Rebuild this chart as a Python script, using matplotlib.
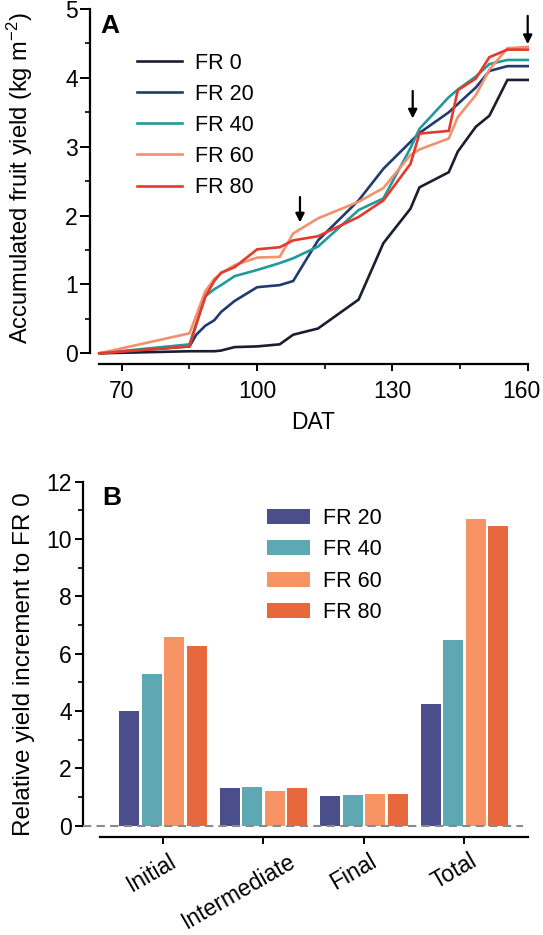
import matplotlib
matplotlib.use('Agg')
import matplotlib.pyplot as plt
from matplotlib.transforms import ScaledTranslation
import numpy as np

plt.rcParams['font.family'] = ['Liberation Sans', 'DejaVu Sans']
plt.rcParams['mathtext.fontset'] = 'custom'
plt.rcParams['mathtext.rm'] = 'Liberation Sans'
plt.rcParams['mathtext.it'] = 'Liberation Sans:italic'

# Panel A data: accumulated fruit yield (kg m-2) by days after transplanting
dat = [65, 85, 86.5, 88.5, 90.5, 92, 95, 100, 105, 108, 113.5, 122.5, 128, 134, 136, 142.5, 144.5, 148.5, 151.5, 155.5, 160]
fr0 = [0, 0.03, 0.03, 0.03, 0.03, 0.04, 0.09, 0.10, 0.13, 0.27, 0.36, 0.78, 1.60, 2.10, 2.41, 2.63, 2.93, 3.29, 3.45, 3.97, 3.97]
fr20 = [0, 0.10, 0.27, 0.40, 0.48, 0.60, 0.76, 0.96, 0.99, 1.05, 1.64, 2.22, 2.68, 3.07, 3.20, 3.50, 3.62, 3.86, 4.10, 4.17, 4.17]
fr40 = [0, 0.13, 0.43, 0.83, 0.93, 0.99, 1.12, 1.21, 1.31, 1.38, 1.55, 2.08, 2.25, 2.98, 3.26, 3.72, 3.83, 4.02, 4.20, 4.26, 4.26]
fr60 = [0, 0.29, 0.55, 0.90, 1.08, 1.16, 1.28, 1.39, 1.40, 1.74, 1.96, 2.20, 2.40, 2.88, 2.96, 3.12, 3.43, 3.75, 4.12, 4.43, 4.45]
fr80 = [0, 0.10, 0.42, 0.82, 1.05, 1.17, 1.25, 1.51, 1.54, 1.64, 1.70, 1.98, 2.22, 2.75, 3.19, 3.23, 3.82, 3.99, 4.30, 4.41, 4.41]
line_labels = ['FR 0', 'FR 20', 'FR 40', 'FR 60', 'FR 80']
line_colors = ['#1b1d30', '#1f3b70', '#22999b', '#f2916c', '#e5392b']
arrow_dat = [109.5, 134.5, 160]
arrow_top = [2.27, 3.81, 4.90]
arrow_tip = [1.90, 3.41, 4.49]

# Panel B data: relative yield increment to FR 0
periods = ['Initial', 'Intermediate', 'Final', 'Total']
bar_labels = ['FR 20', 'FR 40', 'FR 60', 'FR 80']
inc_fr20 = [4.01, 1.30, 1.05, 4.23]
inc_fr40 = [5.29, 1.34, 1.07, 6.48]
inc_fr60 = [6.59, 1.21, 1.12, 10.70]
inc_fr80 = [6.27, 1.33, 1.12, 10.45]
bar_colors = ['#4a4e8a', '#5da8b2', '#f79466', '#e8683d']

W, H = 543, 935
fig = plt.figure(figsize=(W / 100, H / 100), dpi=100)

def px_axes(left, top, right, bottom):
    return fig.add_axes([left / W, 1 - bottom / H, (right - left) / W, (bottom - top) / H])

##################### panel A
ax = px_axes(99.3, 9, 527.7, 353.3)
for y, lab, c in zip([fr0, fr20, fr40, fr60, fr80], line_labels, line_colors):
    ax.plot(dat, y, color=c, lw=1.9, label=lab, clip_on=False, solid_joinstyle='miter')
ax.set_xlim(65, 160)
ax.set_ylim(0, 5)
ax.set_xticks([70, 100, 130, 160])
ax.set_xticks([85, 115, 145], minor=True)
ax.set_yticks(np.arange(0, 6, 1))
ax.set_yticks(np.arange(0.5, 5, 1), minor=True)
for s in ['top', 'right']:
    ax.spines[s].set_visible(False)
ax.spines['left'].set_position(('outward', 6.5))
ax.spines['bottom'].set_position(('outward', 8))
for s in ['left', 'bottom']:
    ax.spines[s].set_linewidth(1.6)
ax.tick_params(which='major', width=1.4, labelsize=16.5)
ax.tick_params(axis='y', which='major', length=7, pad=2)
ax.tick_params(axis='x', which='major', length=5, pad=6.5)
ax.tick_params(which='minor', length=3.5, width=1.2)
# last label sits a little inside the edge, like the original
lab160 = ax.get_xticklabels()[-1]
lab160.set_transform(lab160.get_transform() + ScaledTranslation(-6 / 100, 0, fig.dpi_scale_trans))
ax.set_xlabel('DAT', fontsize=16.5, labelpad=5.5)
ax.set_ylabel('Accumulated fruit yield (kg m$^{-2}$)', fontsize=17)
ax.yaxis.set_label_coords(-0.150, 0.509)
for xa, yt, yb in zip(arrow_dat, arrow_top, arrow_tip):
    ax.annotate('', xy=(xa, yb), xytext=(xa, yt),
                arrowprops=dict(arrowstyle='-|>', color='black', lw=1.6, mutation_scale=13, shrinkA=0, shrinkB=0),
                annotation_clip=False)
ax.text(100 / W, 1 - 33 / H, 'A', transform=fig.transFigure, fontsize=19, fontweight='bold')
ax.legend(loc='upper left', bbox_to_anchor=(137 / W, 1 - 53 / H), bbox_transform=fig.transFigure,
          frameon=False, fontsize=15.5, handlelength=2.1, handletextpad=0.6, labelspacing=0.465,
          borderpad=0, borderaxespad=0)

##################### panel B
bx = px_axes(83, 481.7, 528.4, 825.7)
x = np.arange(len(periods))
for i, (vals, lab, c) in enumerate(zip([inc_fr20, inc_fr40, inc_fr60, inc_fr80], bar_labels, bar_colors)):
    bx.bar(x + (i - 1.5) * 0.224, vals, width=0.2, color=c, label=lab)
bx.plot([-0.795, 3.584], [0, 0], color='#8a8a8a', lw=1.5, ls=(0, (4, 2.5)), clip_on=False, zorder=3)
bx.set_xlim(-0.795, 3.637)
bx.set_ylim(0, 12)
bx.set_yticks(np.arange(0, 13, 2))
bx.set_yticks(np.arange(1, 12, 2), minor=True)
bx.set_xticks(x)
bx.set_xticklabels(periods)
for s in ['top', 'right']:
    bx.spines[s].set_visible(False)
bx.spines['bottom'].set_position(('outward', 8))
bx.spines['bottom'].set_bounds(-0.621, 3.637)
for s in ['left', 'bottom']:
    bx.spines[s].set_linewidth(1.6)
bx.tick_params(which='major', width=1.4, labelsize=16.5)
bx.tick_params(axis='y', which='major', length=6, pad=2)
bx.tick_params(axis='x', which='major', length=5, pad=4, labelrotation=30)
bx.tick_params(which='minor', length=3.5, width=1.2)
r = fig.canvas.get_renderer()
for lab in bx.get_xticklabels():
    lab.set_ha('center')
    w = lab.get_window_extent(r).width
    lab.set_transform(lab.get_transform() + ScaledTranslation(-0.2 * w / 100, 0, fig.dpi_scale_trans))
bx.set_ylabel('Relative yield increment to FR 0', fontsize=17.5)
bx.yaxis.set_label_coords(-0.108, 0.47)
bx.text(102 / W, 1 - 505 / H, 'B', transform=fig.transFigure, fontsize=19, fontweight='bold')
bx.legend(loc='upper left', bbox_to_anchor=(266.8 / W, 1 - 508 / H), bbox_transform=fig.transFigure,
          frameon=False, fontsize=15.5, handlelength=2.0, handleheight=0.7, handletextpad=0.6,
          labelspacing=0.48, borderpad=0, borderaxespad=0)

plt.savefig('out.png', dpi=100)
